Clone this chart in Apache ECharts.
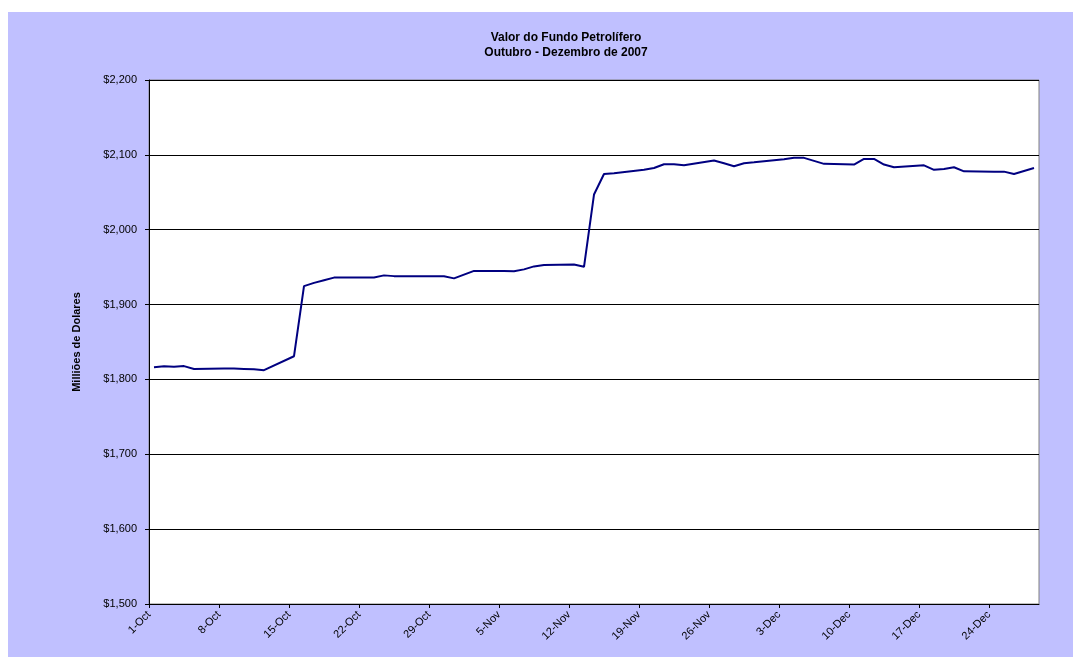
<!DOCTYPE html>
<html>
<head>
<meta charset="utf-8">
<script src="https://cdn.jsdelivr.net/npm/echarts@6/dist/echarts.min.js"></script>
<style>
  html, body { margin: 0; padding: 0; background: #fff; }
  #frame { position: absolute; left: 8px; top: 12px; width: 1065px; height: 645px; background: #C0C0FF; }
  #chart { position: absolute; left: 0; top: 0; width: 1073px; height: 657px; }
</style>
</head>
<body>
<div id="frame"></div>
<div id="chart"></div>
<script>
// dias de negociação e valor do fundo (milhões de USD)
var dates = [
  '2007-10-01','2007-10-02','2007-10-03','2007-10-04','2007-10-05',
  '2007-10-08','2007-10-09','2007-10-10','2007-10-11','2007-10-12',
  '2007-10-15','2007-10-16','2007-10-17','2007-10-18','2007-10-19',
  '2007-10-22','2007-10-23','2007-10-24','2007-10-25','2007-10-26',
  '2007-10-29','2007-10-30','2007-10-31','2007-11-01','2007-11-02',
  '2007-11-05','2007-11-06','2007-11-07','2007-11-08','2007-11-09',
  '2007-11-12','2007-11-13','2007-11-14','2007-11-15','2007-11-16',
  '2007-11-19','2007-11-20','2007-11-21','2007-11-22','2007-11-23',
  '2007-11-26','2007-11-27','2007-11-28','2007-11-29','2007-11-30',
  '2007-12-03','2007-12-04','2007-12-05','2007-12-06','2007-12-07',
  '2007-12-10','2007-12-11','2007-12-12','2007-12-13','2007-12-14',
  '2007-12-17','2007-12-18','2007-12-19','2007-12-20','2007-12-21',
  '2007-12-24','2007-12-25','2007-12-26','2007-12-27','2007-12-28'
];
var values = [
  1816.4, 1817.5, 1817.0, 1817.8, 1814.0,
  1814.5, 1814.5, 1814.0, 1813.5, 1812.4,
  1831.0, 1924.6, 1929.0, 1932.5, 1936.0,
  1936.0, 1936.2, 1939.0, 1938.0, 1938.0,
  1938.0, 1937.8, 1935.0, 1940.0, 1945.0,
  1945.0, 1944.5, 1947.0, 1951.0, 1953.0,
  1953.5, 1950.5, 2047.0, 2074.5, 2075.5,
  2080.0, 2082.5, 2087.5, 2087.5, 2086.0,
  2092.4, 2088.8, 2084.8, 2088.8, 2090.0,
  2094.0, 2096.0, 2096.0, 2092.0, 2088.0,
  2087.0, 2094.5, 2094.5, 2087.0, 2083.4,
  2086.0, 2080.0, 2081.0, 2083.4, 2078.0,
  2077.6, 2077.6, 2074.5, 2078.5, 2082.5
];
// marcas do eixo x (semanais)
var tickDates = [
  '2007-10-01','2007-10-08','2007-10-15','2007-10-22','2007-10-29',
  '2007-11-05','2007-11-12','2007-11-19','2007-11-26',
  '2007-12-03','2007-12-10','2007-12-17','2007-12-24'
];
var startDate = '2007-10-01';
var endDate = '2007-12-29';
var monthNames = ['Jan','Feb','Mar','Apr','May','Jun','Jul','Aug','Sep','Oct','Nov','Dec'];

var DAY = 86400000;
var t0 = Date.parse(startDate);
function dayNum(s) { return (Date.parse(s) - t0) / DAY; }
function dayLabel(n) {
  var d = new Date(t0 + Math.round(n) * DAY);
  return d.getUTCDate() + '-' + monthNames[d.getUTCMonth()];
}

var chart = echarts.init(document.getElementById('chart'));

var titleFont = 'bold 12px Arial, "Liberation Sans", sans-serif';

var option = {
  backgroundColor: 'transparent',
  animation: false,
  textStyle: { fontFamily: 'Arial, "Liberation Sans", sans-serif' },
  graphic: [
    { type: 'text', x: 566, y: 38, style: { text: 'Valor do Fundo Petrolífero', textAlign: 'center', textVerticalAlign: 'middle', font: titleFont, fill: '#000' } },
    { type: 'text', x: 566, y: 53, style: { text: 'Outubro - Dezembro de 2007', textAlign: 'center', textVerticalAlign: 'middle', font: titleFont, fill: '#000' } }
  ],
  grid: {
    left: 149, top: 80, width: 890, height: 524,
    show: true, backgroundColor: '#fff', borderColor: '#808080', borderWidth: 1
  },
  xAxis: {
    type: 'value',
    min: 0,
    max: dayNum(endDate),
    axisLine: { lineStyle: { color: '#000', width: 1 } },
    axisTick: { show: true, length: 4, lineStyle: { color: '#000' }, customValues: tickDates.map(dayNum) },
    splitLine: { show: false },
    axisLabel: {
      customValues: tickDates.map(dayNum),
      rotate: 45,
      margin: 9,
      fontSize: 11,
      color: '#000',
      formatter: dayLabel
    }
  },
  yAxis: {
    type: 'value',
    min: 1500, max: 2200, interval: 100,
    name: 'Milliões de Dolares',
    nameLocation: 'middle',
    nameGap: 67,
    nameTextStyle: { fontSize: 11, fontWeight: 'bold', color: '#000' },
    axisLine: { show: true, lineStyle: { color: '#000', width: 1 } },
    axisTick: { show: true, length: 4, lineStyle: { color: '#000' } },
    splitLine: { show: true, lineStyle: { color: '#000', width: 1 } },
    axisLabel: {
      margin: 12,
      fontSize: 11,
      color: '#000',
      formatter: function (v) { return '$' + v.toLocaleString('en-US'); }
    }
  },
  series: [{
    name: 'Valor do Fundo',
    type: 'line',
    showSymbol: false,
    lineStyle: { color: '#000080', width: 2 },
    itemStyle: { color: '#000080' },
    // cada dia ocupa uma faixa; o ponto fica no meio dela
    data: dates.map(function (d, i) { return [dayNum(d) + 0.5, values[i]]; })
  }]
};

chart.setOption(option);
</script>
</body>
</html>
